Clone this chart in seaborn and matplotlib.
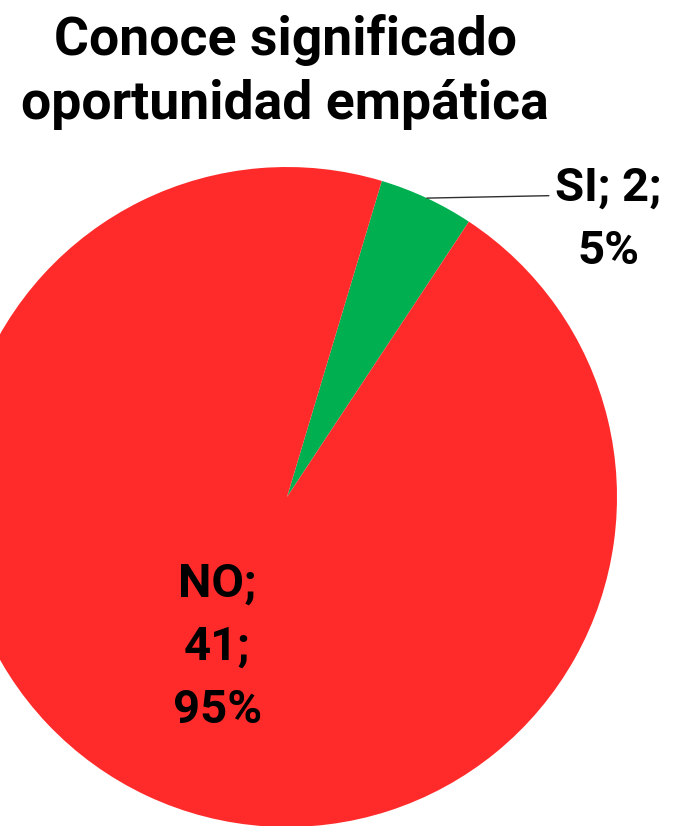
import numpy as np
import matplotlib
matplotlib.use("Agg")
import matplotlib.pyplot as plt
import seaborn as sns

# data
categories = ["SI", "NO"]
counts = [2, 41]
percents = ["5%", "95%"]
slice_colors = ["#00B050", "#FF2B2B"]
title = "Conoce significado\noportunidad empática"

sns.set_style("white")
plt.rcParams["font.family"] = ["Roboto", "DejaVu Sans"]

fig = plt.figure(figsize=(6.75, 8.26), dpi=100)
ax = fig.add_axes([-0.0637, -0.0012, 0.9778, 0.799])

wedges, _ = ax.pie(counts,
                   colors=slice_colors,
                   startangle=73.3,
                   counterclock=False,
                   radius=1,
                   wedgeprops={"linewidth": 0})
ax.set_xlim(-1, 1)
ax.set_ylim(-1, 1)
ax.set_aspect("equal")
ax.axis("off")

labels = [f"{c}; {n};\n{p}" if c == "SI" else f"{c};\n{n};\n{p}"
          for c, n, p in zip(categories, counts, percents)]

for wedge, label, cat in zip(wedges, labels, categories):
    mid = np.deg2rad((wedge.theta1 + wedge.theta2) / 2)
    if cat == "NO":
        ax.text(0.5 * np.cos(mid), 0.5 * np.sin(mid), label,
                ha="center", va="center", fontsize=34, fontweight="bold",
                linespacing=1.55, color="black")
    else:
        ax.annotate(label,
                    xy=(np.cos(mid), np.sin(mid)),
                    xytext=(0.973, 0.842),
                    ha="center", va="center", fontsize=34, fontweight="bold",
                    linespacing=1.55, color="black", annotation_clip=False,
                    arrowprops={"arrowstyle": "-", "color": "#303030",
                                "linewidth": 1, "relpos": (0, 0.72),
                                "shrinkA": 2, "shrinkB": 0})

fig.text(285 / 675, 1 - 14 / 826, title, ha="center", va="top",
         fontsize=38.5, fontweight="bold", linespacing=1.32, color="black")

fig.savefig("out.png", dpi=100)
